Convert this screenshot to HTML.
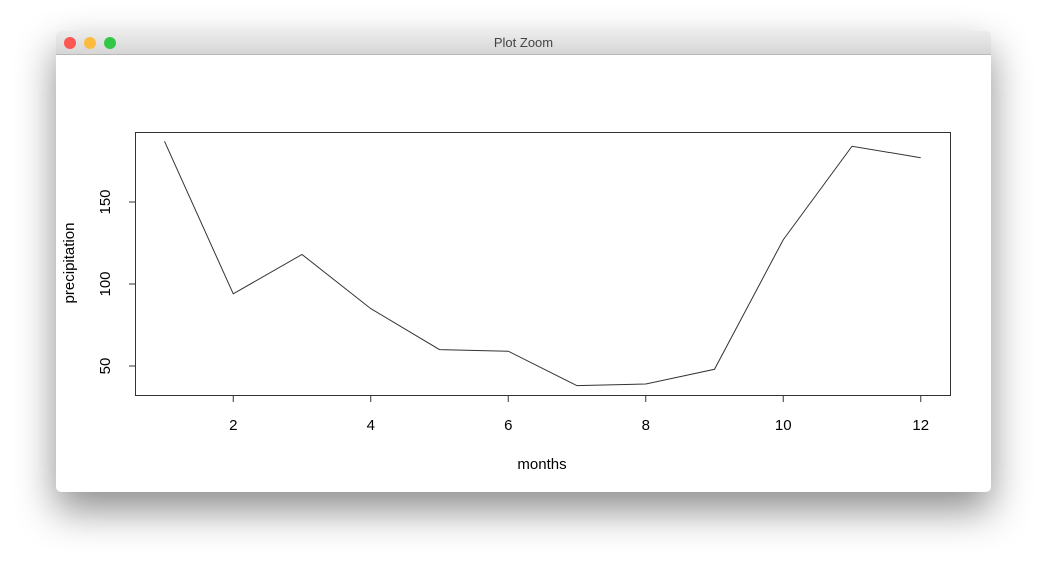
<!DOCTYPE html>
<html><head><meta charset="utf-8"><style>
body{margin:0;background:#fff;width:1047px;height:573px;overflow:hidden;font-family:"Liberation Sans",sans-serif}
#win{position:absolute;left:56px;top:31px;width:935px;height:461px;background:#fff;border-radius:5px;box-shadow:0 18px 40px rgba(0,0,0,0.45);overflow:hidden}
#bar{height:23px;background:linear-gradient(#ececec,#d6d6d6);border-bottom:1px solid #b8b8b8;position:relative;font-size:13px;color:#444;text-align:center;line-height:23px}
.dot{position:absolute;top:6px;width:12px;height:12px;border-radius:50%}
</style></head><body>
<div id="win">
<div id="bar">
<div class="dot" style="left:8px;background:#fc5753"></div>
<div class="dot" style="left:28px;background:#fdbc40"></div>
<div class="dot" style="left:48px;background:#33c748"></div>
<span>Plot Zoom</span>
</div>
</div>
<svg id="chart" width="1047" height="573" style="position:absolute;left:0;top:0"></svg>
<script>
const months=[1,2,3,4,5,6,7,8,9,10,11,12];
const precipitation=[187,94,118,85,60,59,38,39,48,127,184,177];
const xTicks=[2,4,6,8,10,12];
const yTicks=[50,100,150];
const ns="http://www.w3.org/2000/svg";
const svg=document.getElementById('chart');
function x(v){return 164.5+(v-1)*68.75;}
function y(v){return 366-(v-50)*1.64;}
function mk(t,a,p){const e=document.createElementNS(ns,t);for(const k in a)e.setAttribute(k,a[k]);(p||svg).appendChild(e);return e;}
const box=mk('rect',{x:135.5,y:132.5,width:815,height:263,fill:'none',stroke:'#333','stroke-width':1});


const pts=months.map((m,i)=>x(m)+','+y(precipitation[i])).join(' ');
const line=mk('polyline',{points:pts,fill:'none',stroke:'#333','stroke-width':1});


mk('line',{x1:x(xTicks[0]),x2:x(xTicks[xTicks.length-1]),y1:395.5,y2:395.5,stroke:'#333'});
xTicks.forEach(t=>{
 mk('line',{x1:x(t),x2:x(t),y1:395.5,y2:402,stroke:'#333'});
 const tx=mk('text',{x:x(t),y:430,'text-anchor':'middle','font-size':15,fill:'#000'});
 tx.textContent=t;
 
 
});
mk('line',{x1:135.5,x2:135.5,y1:y(yTicks[0]),y2:y(yTicks[yTicks.length-1]),stroke:'#333'});
yTicks.forEach(t=>{
 mk('line',{x1:129,x2:135.5,y1:y(t),y2:y(t),stroke:'#333'});
 const tx=mk('text',{x:0,y:0,'text-anchor':'middle','font-size':15,fill:'#000',transform:`translate(110,${y(t)}) rotate(-90)`});
 tx.textContent=t;
 
 
});
const xt=mk('text',{x:542,y:469,'text-anchor':'middle','font-size':15,fill:'#000'});
xt.textContent='months';


const yt=mk('text',{x:0,y:0,'text-anchor':'middle','font-size':15,fill:'#000',transform:'translate(74,263) rotate(-90)'});
yt.textContent='precipitation';


</script>
</body></html>
